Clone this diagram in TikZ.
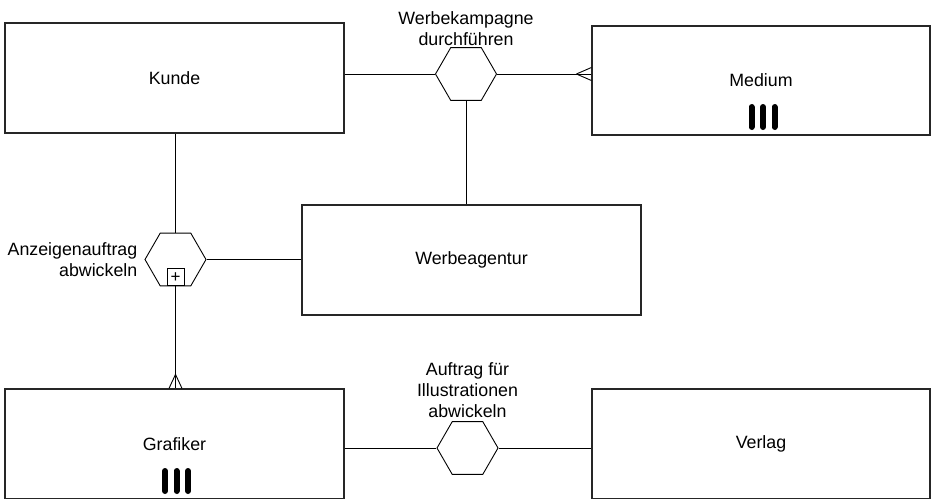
\documentclass[tikz,border=0pt]{standalone}
\usepackage{fontspec}
\setmainfont{Liberation Sans}
\usetikzlibrary{positioning,shapes.geometric,calc}

\tikzset{
  entity/.style={draw=black!85, line width=1.2pt, minimum width=339pt, minimum height=110pt, inner sep=0pt},
  relship/.style={draw, line width=0.9pt, regular polygon, regular polygon sides=6, minimum size=61pt, inner sep=0pt},
  txt/.style={align=center, inner sep=0pt},
  link/.style={line width=0.9pt},
  bar/.style={line width=6pt, line cap=round},
}

\begin{document}
\begin{tikzpicture}[x=1pt,y=-1pt,every node/.style={font=\fontsize{17.8}{21}\selectfont}]
\useasboundingbox (0,0) rectangle (931,498);
\clip (0,0) rectangle (931,498);

% entities
\node[entity] (kunde) at (174.5,78) {Kunde};
\node[entity, minimum width=338pt, minimum height=109pt] (medium) at (761,80.5) {Medium};
\node[entity] (agentur) at (471.5,260) {Werbeagentur};
\node[entity] (grafiker) at (174.5,444) {Grafiker};
\node[entity, minimum width=338pt] (verlag) at (761,444) {Verlag};

% relationships
\node[relship] (hexW) at (466,74) {};
\node[relship] (hexA) at (175.5,259.5) {};
\node[relship] (hexI) at (467.5,448) {};
\node[draw, line width=0.9pt, minimum size=17pt, inner sep=0pt, anchor=south, font=\fontsize{17}{17}\selectfont] (plus) at (hexA.south) {+};

\node[txt, above=1pt of hexW] (lblW) {Werbekampagne\\durchführen};
\node[txt, align=right, left=7pt of hexA] (lblA) {Anzeigenauftrag\\abwickeln};
\node[txt, above=3pt of hexI] (lblI) {Auftrag für\\Illustrationen\\abwickeln};

% connectors
\draw[link] (kunde.east |- hexW) -- (hexW.west);
\draw[link] (hexW.east) -- (medium.west |- hexW);
\coordinate (cfM) at ($(medium.west |- hexW)+(-15,0)$);
\draw[link] (cfM) -- ++(15,-6.5) (cfM) -- ++(15,6.5);
\draw[link] (hexW.south) -- (agentur.north -| hexW);

\draw[link] (kunde.south -| hexA) -- (hexA.north);
\draw[link] (hexA.east) -- (agentur.west |- hexA);
\draw[link] (hexA.south) -- (grafiker.north -| hexA);
\coordinate (cfG) at ($(grafiker.north -| hexA)+(0,-14)$);
\draw[link] (cfG) -- ++(-6.5,14) (cfG) -- ++(6.5,14);

\draw[link] (grafiker.east |- hexI) -- (hexI.west);
\draw[link] (hexI.east) -- (verlag.west |- hexI);

% multiplicity bars
\foreach \dx in {-11.5,0,11.5} {
  \draw[bar] ($(medium.center)+(\dx+2,26.5)$) -- ++(0,20);
  \draw[bar] ($(grafiker.center)+(\dx+2,27)$) -- ++(0,20);
}
\end{tikzpicture}
\end{document}
